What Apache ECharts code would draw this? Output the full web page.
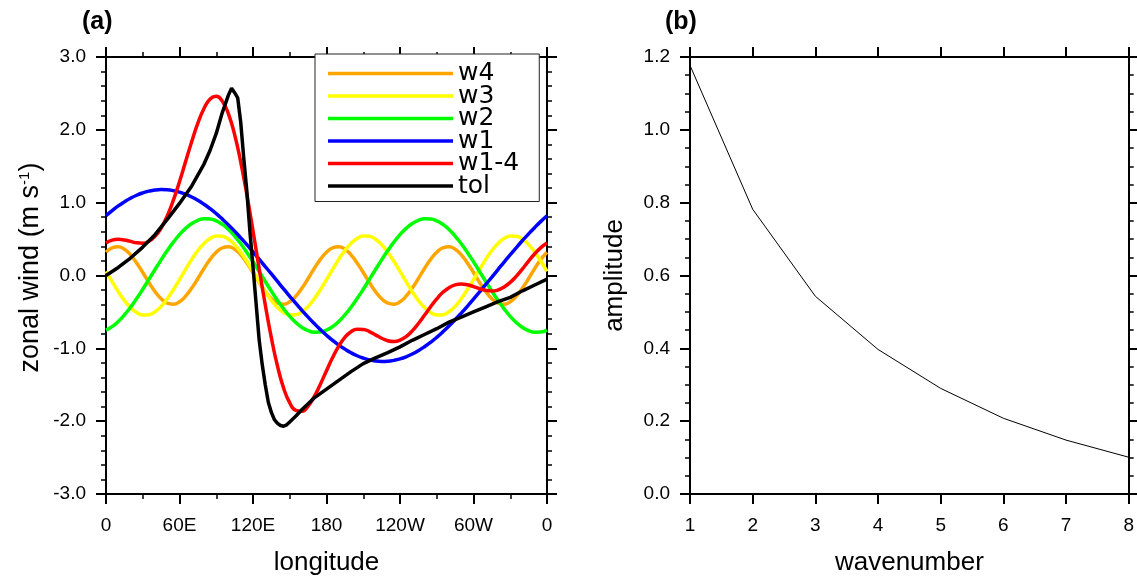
<!DOCTYPE html>
<html>
<head>
<meta charset="utf-8">
<script src="https://cdn.jsdelivr.net/npm/echarts@6/dist/echarts.min.js"></script>
<style>
html,body{margin:0;padding:0;background:#fff;}
#chart{width:1137px;height:581px;}
</style>
</head>
<body>
<div id="chart"></div>
<script>
// ---------- data ----------
const lon = [0,5,10,15,20,25,30,35,40,45,50,55,60,65,70,75,80,85,90,95,100,105,110,115,120,125,130,135,140,145,150,155,160,165,170,175,180,185,190,195,200,205,210,215,220,225,230,235,240,245,250,255,260,265,270,275,280,285,290,295,300,305,310,315,320,325,330,335,340,345,350,355,360];
const w1 = [0.820,0.891,0.955,1.011,1.061,1.102,1.134,1.158,1.174,1.180,1.177,1.165,1.145,1.116,1.078,1.032,0.978,0.917,0.849,0.774,0.694,0.608,0.517,0.423,0.325,0.225,0.123,0.021,-0.082,-0.185,-0.285,-0.384,-0.480,-0.572,-0.660,-0.743,-0.820,-0.891,-0.955,-1.011,-1.061,-1.102,-1.134,-1.158,-1.174,-1.180,-1.177,-1.165,-1.145,-1.116,-1.078,-1.032,-0.978,-0.917,-0.849,-0.774,-0.694,-0.608,-0.517,-0.423,-0.325,-0.225,-0.123,-0.021,0.082,0.185,0.285,0.384,0.480,0.572,0.660,0.743,0.820];
const w2 = [-0.750,-0.701,-0.631,-0.542,-0.436,-0.317,-0.189,-0.054,0.082,0.215,0.342,0.458,0.561,0.647,0.713,0.757,0.778,0.776,0.750,0.701,0.631,0.542,0.436,0.317,0.189,0.054,-0.082,-0.215,-0.342,-0.458,-0.561,-0.647,-0.713,-0.757,-0.778,-0.776,
            -0.750,-0.701,-0.631,-0.542,-0.436,-0.317,-0.189,-0.054,0.082,0.215,0.342,0.458,0.561,0.647,0.713,0.757,0.778,0.776,0.750,0.701,0.631,0.542,0.436,0.317,0.189,0.054,-0.082,-0.215,-0.342,-0.458,-0.561,-0.647,-0.713,-0.757,-0.778,-0.776,
            -0.750];
const w3 = [0.057,-0.085,-0.222,-0.343,-0.441,-0.509,-0.542,-0.538,-0.498,-0.424,-0.320,-0.195,-0.057,0.085,0.222,0.343,0.441,0.509,0.542,0.538,0.498,0.424,0.320,0.195,
            0.057,-0.085,-0.222,-0.343,-0.441,-0.509,-0.542,-0.538,-0.498,-0.424,-0.320,-0.195,-0.057,0.085,0.222,0.343,0.441,0.509,0.542,0.538,0.498,0.424,0.320,0.195,
            0.057,-0.085,-0.222,-0.343,-0.441,-0.509,-0.542,-0.538,-0.498,-0.424,-0.320,-0.195,-0.057,0.085,0.222,0.343,0.441,0.509,0.542,0.538,0.498,0.424,0.320,0.195,
            0.057];
const w4 = [0.320,0.380,0.394,0.361,0.284,0.173,0.041,-0.096,-0.221,-0.320,-0.380,-0.394,-0.361,-0.284,-0.173,-0.041,0.096,0.221,
            0.320,0.380,0.394,0.361,0.284,0.173,0.041,-0.096,-0.221,-0.320,-0.380,-0.394,-0.361,-0.284,-0.173,-0.041,0.096,0.221,
            0.320,0.380,0.394,0.361,0.284,0.173,0.041,-0.096,-0.221,-0.320,-0.380,-0.394,-0.361,-0.284,-0.173,-0.041,0.096,0.221,
            0.320,0.380,0.394,0.361,0.284,0.173,0.041,-0.096,-0.221,-0.320,-0.380,-0.394,-0.361,-0.284,-0.173,-0.041,0.096,0.221,
            0.320];
const w14 = [0.447,0.485,0.496,0.487,0.468,0.449,0.444,0.470,0.537,0.651,0.819,1.034,1.288,1.564,1.840,2.091,2.293,2.423,2.461,2.393,2.217,1.935,1.557,1.108,0.612,0.098,-0.402,-0.857,-1.245,-1.546,-1.749,-1.853,-1.864,-1.794,-1.662,-1.493,-1.307,-1.127,-0.970,-0.849,-0.772,-0.737,-0.740,-0.770,-0.815,-0.861,-0.895,-0.906,-0.888,-0.838,-0.760,-0.659,-0.545,-0.429,-0.321,-0.231,-0.167,-0.129,-0.117,-0.128,-0.152,-0.182,-0.204,-0.213,-0.199,-0.158,-0.095,-0.009,0.092,0.198,0.298,0.383,0.447];
const tolLon = [0,10,20,30,40,50,60,70,80,85,90,95,100,102.5,105,107.5,110,112.5,115,117.5,120,122.5,125,127.5,130,132.5,135,137.5,140,142.5,145,147.5,150,155,160,165,170,180,190,200,210,220,230,240,250,260,270,280,290,300,310,320,330,340,350,360];
const tol = [0.00,0.11,0.24,0.39,0.56,0.77,0.99,1.23,1.53,1.72,1.95,2.24,2.48,2.57,2.51,2.44,2.10,1.60,1.15,0.60,0.12,-0.38,-0.88,-1.22,-1.50,-1.74,-1.88,-1.98,-2.03,-2.06,-2.07,-2.05,-2.01,-1.93,-1.84,-1.76,-1.68,-1.56,-1.44,-1.32,-1.21,-1.13,-1.06,-0.98,-0.89,-0.81,-0.73,-0.64,-0.57,-0.50,-0.43,-0.36,-0.30,-0.21,-0.13,-0.05];
const lonTickLabels = ['0','60E','120E','180','120W','60W','0'];
const waveNum = [1,2,3,4,5,6,7,8];
const amplitude = [1.177,0.782,0.543,0.397,0.290,0.208,0.148,0.101];
const legendNames = ['w4','w3','w2','w1','w1-4','tol'];

// ---------- chart ----------
const FONT = 'Liberation Sans, Arial, Helvetica, sans-serif';
const chart = echarts.init(document.getElementById('chart'), null, {renderer:'canvas'});

function baseAxis(o){
  const ax = {
    type:'value',
    axisLine:{show:true,onZero:false,lineStyle:{color:'#000',width:2}},
    axisTick:{show:true,inside:false,length:10,lineStyle:{color:'#000',width:2}},
    splitLine:{show:false},
    minorSplitLine:{show:false},
    axisLabel:{show:false,color:'#000',fontSize:19,fontFamily:FONT},
    nameTextStyle:{color:'#000',fontSize:26,fontFamily:FONT},
    nameLocation:'middle'
  };
  return Object.assign(ax,o);
}
function minor(n){return {show:true,splitNumber:n,length:5,lineStyle:{color:'#000',width:1.5}};}

const pairs = (xs,ys)=>xs.map((x,i)=>[x,ys[i]]);

const lineSeries = (name,color,xs,ys,smooth)=>({
  name, type:'line', xAxisIndex:0, yAxisIndex:0,
  data:pairs(xs,ys), smooth, symbol:'none', showSymbol:false,
  lineStyle:{color,width:3.5}, itemStyle:{color}, animation:false
});

const option = {
  animation:false,
  backgroundColor:'#fff',
  title:[
    {text:'(a)',left:77,top:5,textStyle:{fontSize:25,fontWeight:'bold',color:'#000',fontFamily:FONT}},
    {text:'(b)',left:660,top:5,textStyle:{fontSize:25,fontWeight:'bold',color:'#000',fontFamily:FONT}}
  ],
  grid:[
    {left:106,top:57,width:441,height:441},
    {left:690,top:57,width:443,height:441}
  ],
  xAxis:[
    baseAxis({gridIndex:0,position:'bottom',min:0,max:360,interval:60,
      minorTick:minor(2),
      axisLabel:{show:true,color:'#000',fontSize:19,fontFamily:FONT,margin:22,
        formatter:(v)=>lonTickLabels[Math.round(v/60)]},
      name:'longitude',nameGap:56}),
    baseAxis({gridIndex:0,position:'top',min:0,max:360,interval:60,minorTick:minor(2)}),
    baseAxis({gridIndex:1,position:'bottom',min:1,max:8,interval:1,
      axisLabel:{show:true,color:'#000',fontSize:19,fontFamily:FONT,margin:22},
      name:'wavenumber',nameGap:56}),
    baseAxis({gridIndex:1,position:'top',min:1,max:8,interval:1})
  ],
  yAxis:[
    baseAxis({gridIndex:0,position:'left',min:-3,max:3,interval:1,minorTick:minor(5),
      axisLabel:{show:true,color:'#000',fontSize:19,fontFamily:FONT,margin:20,
        formatter:(v)=>v.toFixed(1)},
      name:'{a|zonal wind (m s}{s|-1}{a|)}',nameGap:62,
      nameTextStyle:{color:'#000',fontFamily:FONT,padding:[0,0,0,16],
        rich:{a:{fontSize:27,fontFamily:FONT,color:'#000'},s:{fontSize:15,fontFamily:FONT,color:'#000',verticalAlign:'top',padding:[0,0,10,0]}}}}),
    baseAxis({gridIndex:0,position:'right',min:-3,max:3,interval:1,minorTick:minor(5)}),
    baseAxis({gridIndex:1,position:'left',min:0,max:1.2,interval:0.2,minorTick:minor(4),
      axisLabel:{show:true,color:'#000',fontSize:19,fontFamily:FONT,margin:20,
        formatter:(v)=>v.toFixed(1)},
      name:'amplitude',nameGap:62}),
    baseAxis({gridIndex:1,position:'right',min:0,max:1.2,interval:0.2,minorTick:minor(4)})
  ],
  legend:{
    show:true, orient:'vertical', left:315, top:54,
    data:legendNames, icon:'rect',
    itemWidth:125, itemHeight:3.5, itemGap:-2.5,
    textStyle:{fontSize:25,color:'#000',fontFamily:'DejaVu Sans, sans-serif'},
    borderColor:'#222', borderWidth:1, backgroundColor:'#fff',
    padding:[7,20,3,13], selectedMode:false
  },
  series:[
    lineSeries('w4','#FFA500',lon,w4,true),
    lineSeries('w3','#FFFF00',lon,w3,true),
    lineSeries('w2','#00FF00',lon,w2,true),
    lineSeries('w1','#0000FF',lon,w1,true),
    lineSeries('w1-4','#FF0000',lon,w14,true),
    lineSeries('tol','#000000',tolLon,tol,false),
    {name:'amp',type:'line',xAxisIndex:2,yAxisIndex:2,data:pairs(waveNum,amplitude),
      symbol:'none',lineStyle:{color:'#000',width:1},animation:false}
  ]
};
chart.setOption(option);
</script>
</body>
</html>
